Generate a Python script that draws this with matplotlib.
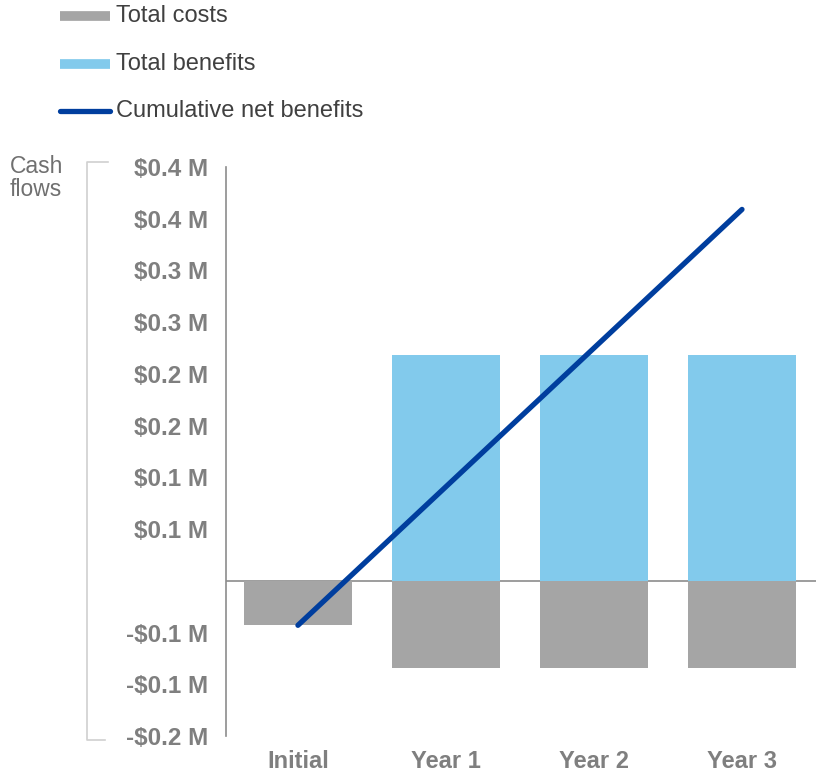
import matplotlib.pyplot as plt
import numpy as np
from decimal import Decimal, ROUND_HALF_UP
from matplotlib.lines import Line2D

plt.rcParams['font.family'] = ['Liberation Sans', 'DejaVu Sans']

categories = ["Initial", "Year 1", "Year 2", "Year 3"]
total_costs = np.array([-0.043, -0.084, -0.084, -0.084])
total_benefits = np.array([0.0, 0.218, 0.218, 0.218])
cumulative = np.cumsum(total_costs + total_benefits)

yticks = np.round(np.arange(-0.15, 0.401, 0.05), 2)

gray = "#A5A5A5"
blue_light = "#82CAEC"
blue_dark = "#003E9E"
txt = "#7F7F7F"


def money(v):
    if abs(v) < 1e-9:
        return ""
    d = Decimal(str(abs(v))).quantize(Decimal("0.1"), rounding=ROUND_HALF_UP)
    return ("-" if v < 0 else "") + f"${d} M"


fig = plt.figure(figsize=(8.18, 7.75), dpi=100)
ax = fig.add_axes([226 / 818, 39 / 775, 590 / 818, 569 / 775])

x = np.arange(len(categories))
ax.bar(x, total_costs, width=0.73, color=gray, zorder=2)
ax.bar(x, total_benefits, width=0.73, color=blue_light, zorder=2)
ax.plot(x, cumulative, color=blue_dark, lw=3.8, solid_capstyle='round', zorder=3)
ax.axhline(0, color="#8C8C8C", lw=1.2, zorder=1)

ax.set_xlim(-0.486, 3.5)
ax.set_ylim(-0.15, 0.4)
ax.set_yticks(yticks)
ax.set_yticklabels([money(v) for v in yticks])
ax.set_xticks(x)
ax.set_xticklabels(categories)
ax.tick_params(axis='both', length=0, labelsize=17.5, labelcolor=txt)
ax.tick_params(axis='x', labelsize=17)
ax.tick_params(axis='y', pad=13)
ax.tick_params(axis='x', pad=10)
for lbl in ax.get_xticklabels() + ax.get_yticklabels():
    lbl.set_fontweight('bold')

for s in ['top', 'right', 'bottom']:
    ax.spines[s].set_visible(False)
ax.spines['left'].set_color("#8C8C8C")
ax.spines['left'].set_linewidth(1.2)

# "Cash flows" label and bracket
fig.text(10 / 818, 1 - 155 / 775, "Cash\nflows", fontsize=16.5, color="#707070",
         va='top', ha='left', linespacing=1.0)
fig.add_artist(Line2D([108 / 818, 87 / 818, 87 / 818, 105 / 818],
                      [1 - 162 / 775, 1 - 162 / 775, 1 - 740 / 775, 1 - 740 / 775],
                      color="#D0D0D0", lw=1.2))

# legend
leg = [("Total costs", gray, 'butt', 7), ("Total benefits", blue_light, 'butt', 7),
       ("Cumulative net benefits", blue_dark, 'round', 3.8)]
for i, (name, c, cap, w) in enumerate(leg):
    yy = 1 - (16 + 47.5 * i) / 775
    fig.add_artist(Line2D([60 / 818, 110 / 818], [yy, yy], color=c, lw=w,
                          solid_capstyle=cap))
    fig.text(116 / 818, yy, name, fontsize=17, color="#404040", va='center', ha='left')

fig.savefig("out.png", dpi=100)
